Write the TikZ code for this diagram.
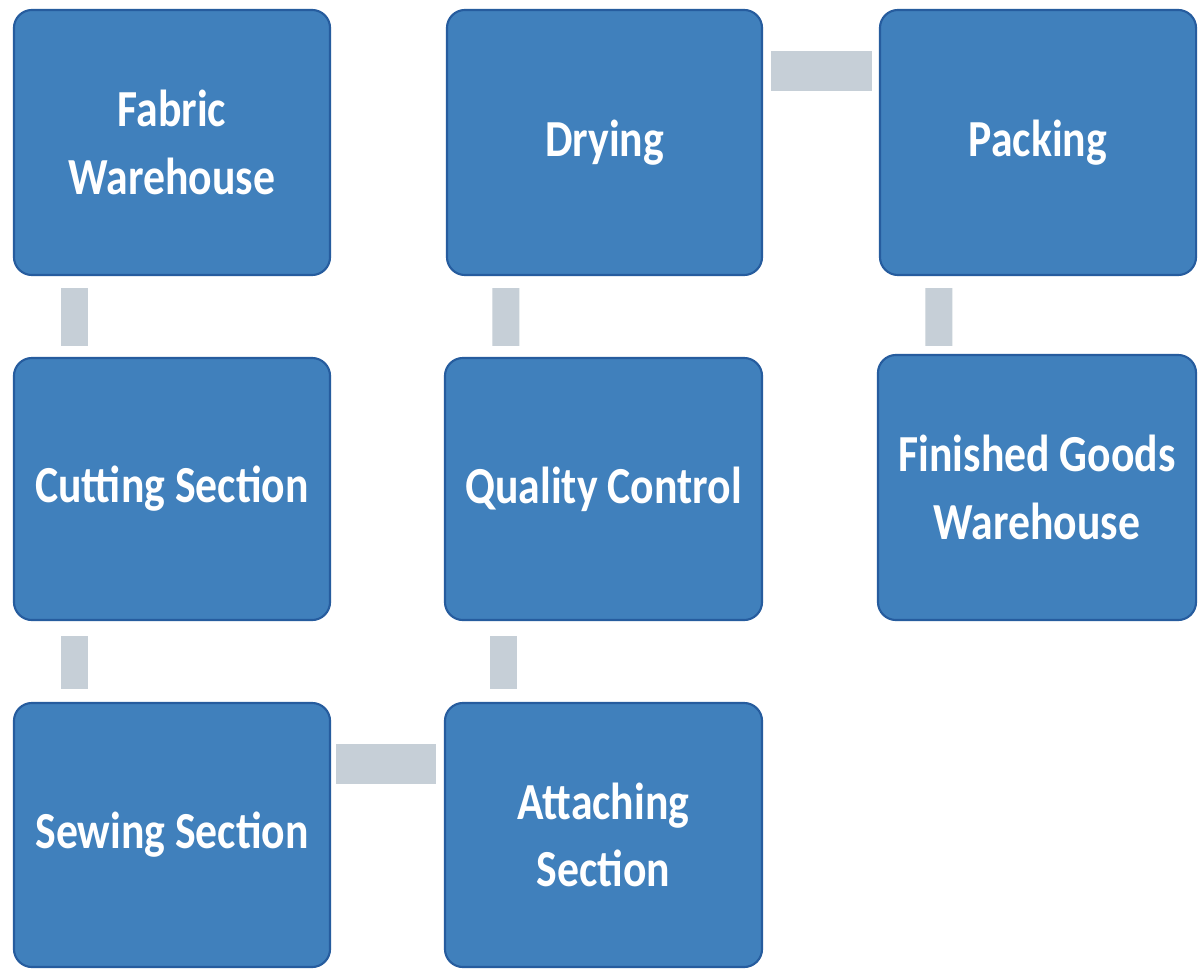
\documentclass[tikz,border=0pt]{standalone}
\usepackage{fontspec}
\setmainfont{Carlito}
\newfontfamily\boxfont[FakeStretch=0.84]{Carlito}
\usetikzlibrary{calc}
\definecolor{boxfill}{RGB}{64,128,188}
\definecolor{boxdraw}{RGB}{38,92,158}
\definecolor{conngray}{RGB}{198,207,215}
\tikzset{
  stepbox/.style={draw=boxdraw, line width=1.5pt, fill=boxfill, rounded corners=0.45cm,
    minimum width=7.9cm, minimum height=6.6cm, text=white, align=center,
    font=\boxfont\bfseries\fontsize{37}{48}\selectfont, inner sep=0pt},
  vconn/.style={draw=conngray, line width=0.675cm},
  hconn/.style={draw=conngray, line width=1.0cm}
}
\begin{document}
\begin{tikzpicture}[x=0.025cm, y=-0.025cm]
\useasboundingbox[fill=white] (0,0) rectangle (1201,971);
\node[stepbox, minimum width=7.9cm, minimum height=6.625cm] (fw) at (172,142.5) {Fabric\\Warehouse};
\node[stepbox, minimum width=7.875cm, minimum height=6.625cm] (dry) at (604.5,142.5) {Drying};
\node[stepbox, minimum width=7.9cm, minimum height=6.625cm] (pack) at (1038,142.5) {Packing};
\node[stepbox, minimum width=7.9cm, minimum height=6.55cm] (cut) at (172,489) {Cutting Section};
\node[stepbox, minimum width=7.925cm, minimum height=6.55cm] (qc) at (603.5,489) {Quality Control};
\node[stepbox, minimum width=7.95cm, minimum height=6.625cm] (fg) at (1037,487.5) {Finished Goods\\Warehouse};
\node[stepbox, minimum width=7.9cm, minimum height=6.6cm] (sew) at (172,835) {Sewing Section};
\node[stepbox, minimum width=7.925cm, minimum height=6.6cm] (att) at (603.5,835) {Attaching\\Section};
% vertical connectors
\draw[vconn] ($(fw.south west)+(61.5,12)$) -- ($(cut.north west)+(61.5,-11)$);
\draw[vconn] ($(cut.south west)+(61.5,15)$) -- ($(sew.north west)+(61.5,-13)$);
\draw[vconn] ($(dry.south west)+(60,12)$) -- ($(qc.north west)+(62,-11)$);
\draw[vconn] ($(qc.south west)+(60,15)$) -- ($(att.north west)+(60,-13)$);
\draw[vconn] ($(pack.south west)+(60,12)$) -- ($(fg.north west)+(62,-8)$);
% horizontal connectors
\draw[hconn] ($(dry.north east)+(8,62)$) -- ($(pack.north west)+(-7,62)$);
\draw[hconn] ($(sew.north east)+(5,62)$) -- ($(att.north west)+(-8,62)$);
\end{tikzpicture}
\end{document}
